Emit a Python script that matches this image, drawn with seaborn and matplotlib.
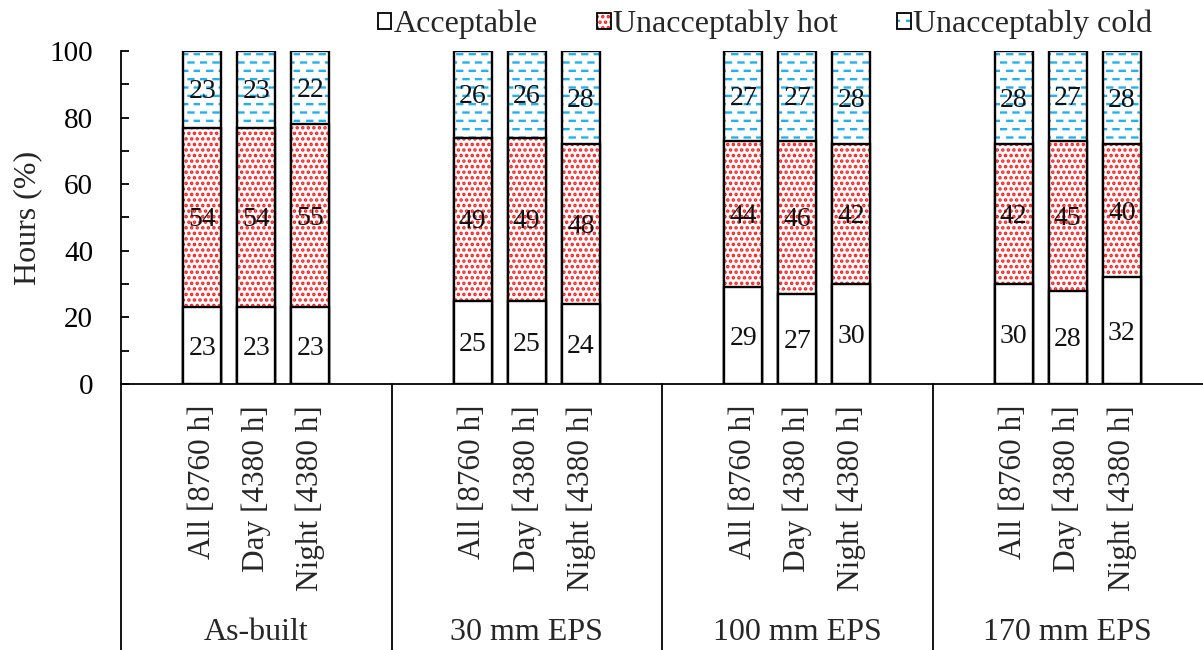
import numpy as np
import pandas as pd
import matplotlib
matplotlib.use("Agg")
import matplotlib.pyplot as plt
import matplotlib.transforms as mtransforms
from matplotlib import hatch as mhatch
from matplotlib.path import Path
from matplotlib.patches import Patch
from matplotlib.legend_handler import HandlerTuple
from matplotlib.ticker import MultipleLocator
import seaborn as sns

# ---- data -------------------------------------------------------------
groups = ["As-built", "30 mm EPS", "100 mm EPS", "170 mm EPS"]
periods = ["All [8760 h]", "Day [4380 h]", "Night [4380 h]"]
acceptable = [23, 23, 23, 25, 25, 24, 29, 27, 30, 30, 28, 32]
unacc_hot = [54, 54, 55, 49, 49, 48, 44, 46, 42, 42, 45, 40]
unacc_cold = [23, 23, 22, 26, 26, 28, 27, 27, 28, 28, 27, 28]
series_names = ["Acceptable", "Unacceptably hot", "Unacceptably cold"]
yticks = [0, 20, 40, 60, 80, 100]

RED = "#ff1a1a"
BLUE = "#1fb2f0"


# ---- short staggered dashes used as the '-' hatch -----------------------
class StaggeredDashes(mhatch.HatchPatternBase):
    def __init__(self, hatch, density):
        self.num_rows = int(hatch.count('-') * density * 2)
        self.num_cols = 8
        self.num_vertices = self.num_rows * self.num_cols * 2

    def set_vertices_and_codes(self, vertices, codes):
        dash = 0.05
        step = 1.0 / self.num_cols
        k = 0
        for i in range(self.num_rows):
            y = (i + 0.5) / self.num_rows
            shift = 0.01 if i % 2 == 0 else 0.01 + step / 2
            for j in range(self.num_cols):
                x0 = j * step + shift
                vertices[k] = (x0, y)
                vertices[k + 1] = (x0 + dash, y)
                codes[k] = Path.MOVETO
                codes[k + 1] = Path.LINETO
                k += 2


mhatch._hatch_types[mhatch._hatch_types.index(mhatch.HorizontalHatch)] = StaggeredDashes

# ---- style --------------------------------------------------------------
sns.set_style("white")
plt.rcParams["font.family"] = ["Liberation Serif", "DejaVu Serif"]
plt.rcParams["hatch.linewidth"] = 1.7
plt.rcParams["axes.linewidth"] = 1.3

fig = plt.figure(figsize=(12.03, 6.5), dpi=100)
ax = fig.add_axes([121 / 1203, (650 - 384) / 650, 1082 / 1203, 333 / 650])

# bar positions: three bars per group, groups five units wide
pos = [g * 5 + 1.5 + j for g in range(len(groups)) for j in range(len(periods))]
df = pd.DataFrame({
    "pos": pos,
    "acc": acceptable,
    "hot": unacc_hot,
    "cold": unacc_cold,
})
df["top_hot"] = df["acc"] + df["hot"]
df["top_cold"] = df["top_hot"] + df["cold"]


def draw_layer(col, hatch, hatch_color):
    n0 = len(ax.patches)
    sns.barplot(data=df, x="pos", y=col, native_scale=True, orient="x",
                width=0.7, color="white", saturation=1, errorbar=None, ax=ax)
    for p in ax.patches[n0:]:
        p.set_facecolor("white")
        p.set_hatch(hatch)
        p.set_edgecolor(hatch_color)
        p.set_linewidth(0)
    n1 = len(ax.patches)
    sns.barplot(data=df, x="pos", y=col, native_scale=True, orient="x",
                width=0.7, color="black", fill=False, errorbar=None, ax=ax)
    for p in ax.patches[n1:]:
        p.set_facecolor("none")
        p.set_edgecolor("black")
        p.set_linewidth(1.7)


# stacked layers: full bar first, then cover from the bottom
draw_layer("top_cold", "-", BLUE)
draw_layer("top_hot", "...", RED)
draw_layer("acc", None, "white")

# value labels in segment centres (nudged slightly down)
label_tr = mtransforms.offset_copy(ax.transData, fig=fig, x=0, y=-2.5,
                                   units="dots")
for x, a, h, c in zip(pos, acceptable, unacc_hot, unacc_cold):
    for val, mid in ((a, a / 2), (h, a + h / 2), (c, a + h + c / 2)):
        ax.text(x, mid, f"{val}", ha="center", va="center", fontsize=20,
                color="#111111", transform=label_tr)

# axes
ax.set_xlim(0, 20)
ax.set_ylim(0, 100)
ax.set_yticks(yticks)
ax.yaxis.set_minor_locator(MultipleLocator(10))
ax.tick_params(axis="y", which="both", direction="in", length=6, width=1.3,
               labelsize=21, pad=20, left=True, colors="black")
ax.set_xticks(pos)
ax.set_xticklabels(periods * len(groups), rotation=90, fontsize=22.5)
ax.tick_params(axis="x", length=0, pad=15)
ax.set_xlabel("")
ax.set_ylabel("Hours (%)", fontsize=23)
ax.yaxis.set_label_coords(-0.073, 0.5)
for side in ("top", "right"):
    ax.spines[side].set_visible(False)
for side in ("left", "bottom"):
    ax.spines[side].set_color("black")

# group separators and group names under the category labels
trans = mtransforms.blended_transform_factory(ax.transData, ax.transAxes)
for g, name in enumerate(groups):
    ax.plot([g * 5, g * 5], [0, -0.82], transform=trans, clip_on=False,
            color="black", lw=1.3)
    ax.text(g * 5 + 2.5, -0.745, name, transform=trans, ha="center",
            va="center", fontsize=23)

# legend with hatched keys and black outlines
legend_hatches = [(None, "white"), ("...", RED), ("-", BLUE)]
handles = []
for hatch, hc in legend_hatches:
    fill = Patch(facecolor="white", edgecolor=hc, hatch=hatch, linewidth=0)
    edge = Patch(facecolor="none", edgecolor="black", linewidth=1.3)
    handles.append((fill, edge))
fig.legend(handles, series_names, loc="center", bbox_to_anchor=(0.636, 0.962),
           ncol=3, frameon=False, fontsize=23, handlelength=0.42,
           handleheight=0.42, handletextpad=0.08, columnspacing=1.85,
           handler_map={tuple: HandlerTuple(ndivide=1, pad=0)})

fig.savefig("out.png", dpi=100)
